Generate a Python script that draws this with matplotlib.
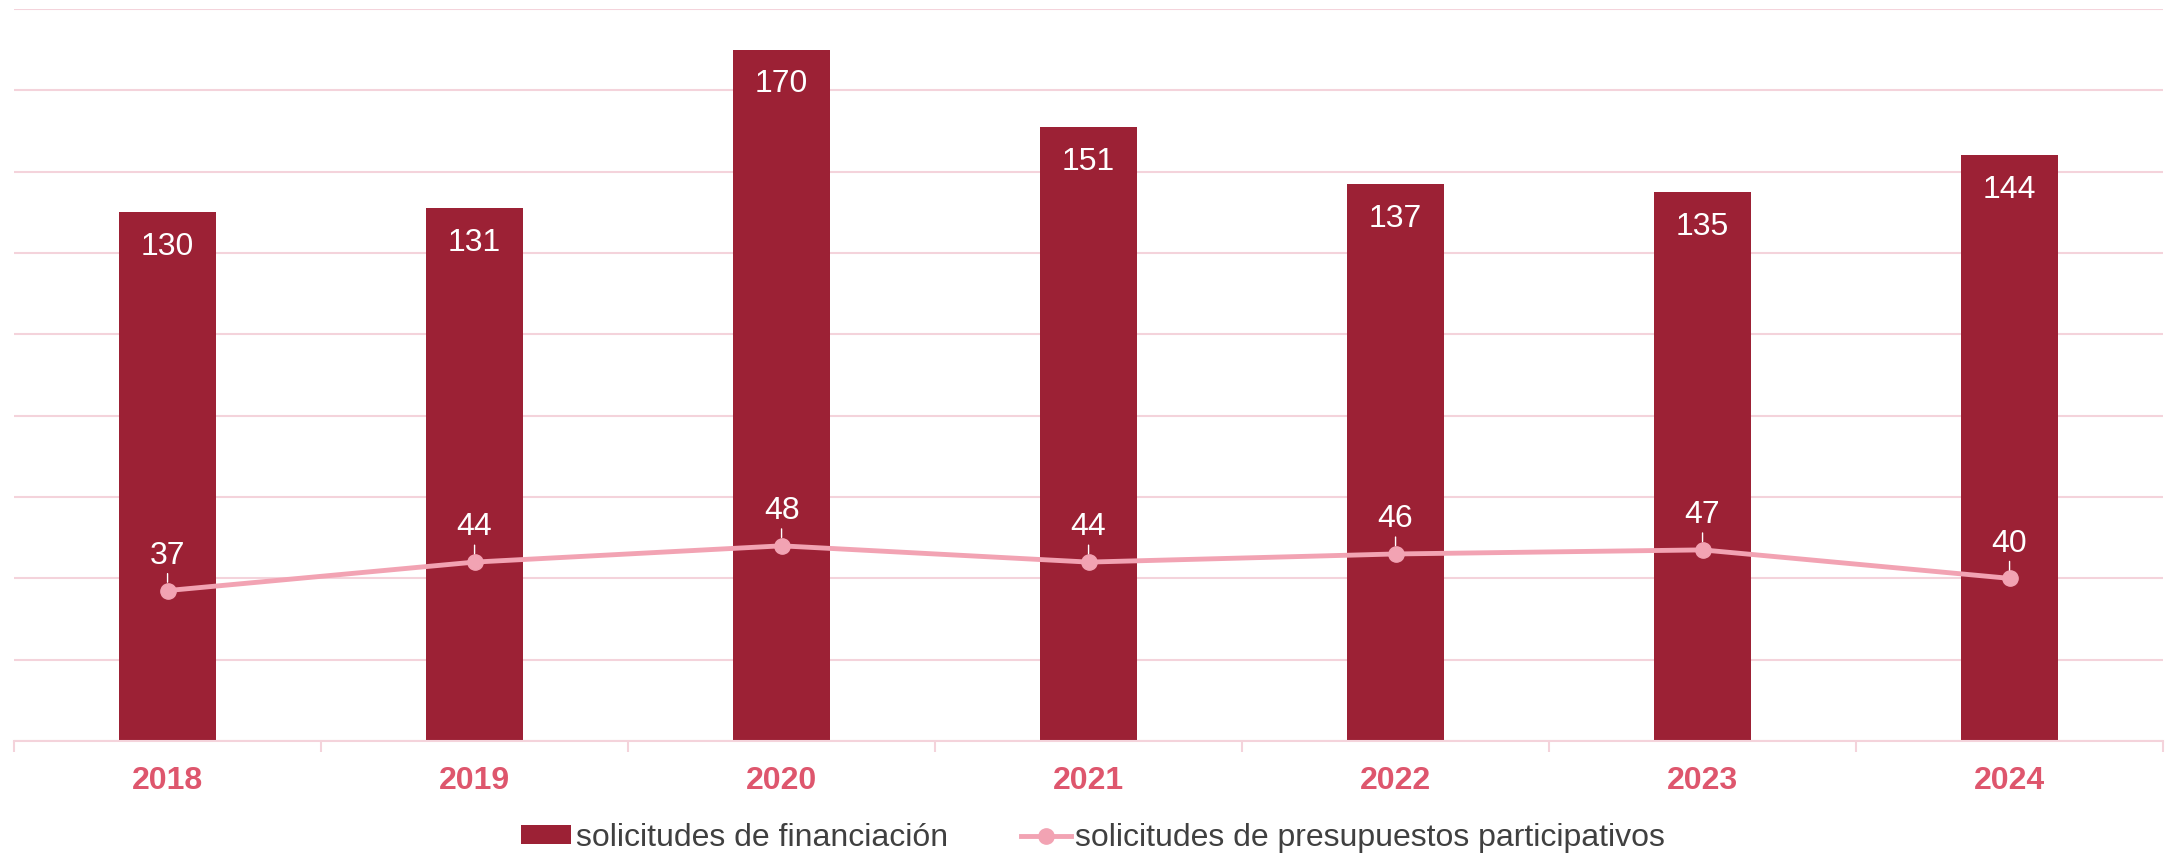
import matplotlib.pyplot as plt
import numpy as np

plt.rcParams["font.family"] = ["Liberation Sans", "DejaVu Sans"]

years = ["2018", "2019", "2020", "2021", "2022", "2023", "2024"]
financiacion = [130, 131, 170, 151, 137, 135, 144]
presupuestos = [37, 44, 48, 44, 46, 47, 40]

BAR = "#9c2135"
LINE = "#f2a3b3"
GRID = "#f4d3db"
YEAR = "#de566d"

fig = plt.figure(figsize=(21.65, 8.56), dpi=100)
ax = fig.add_axes([0.0065, 0.1343, 0.9926, 0.8552])

x = np.arange(len(years))
bars = ax.bar(x, financiacion, width=0.315, color=BAR, zorder=2,
              label="solicitudes de financiación")
line, = ax.plot(x, presupuestos, color=LINE, lw=3.5, marker="o", ms=11,
                zorder=3, label="solicitudes de presupuestos participativos")

for xi, v in zip(x, financiacion):
    ax.annotate(str(v), (xi, v), xytext=(0, -25), textcoords="offset points",
                ha="center", va="center", color="white", fontsize=23, zorder=4)

for xi, v in zip(x, presupuestos):
    ax.annotate(str(v), (xi, v), xytext=(0, 25), textcoords="offset points",
                ha="center", va="center", color="white", fontsize=23, zorder=4,
                arrowprops=dict(arrowstyle="-", color="white", lw=1,
                                shrinkA=13, shrinkB=6))

ax.set_xlim(-0.5, len(years) - 0.5)
ax.set_ylim(0, 180)
ax.set_yticks(np.arange(0, 181, 20))
ax.yaxis.grid(True, color=GRID, lw=1.5, zorder=0)
ax.tick_params(axis="y", length=0, labelleft=False)

ax.set_xticks(x)
ax.set_xticklabels(years, fontsize=23, fontweight="bold", color=YEAR)
ax.tick_params(axis="x", which="major", length=0, pad=18)
ax.set_xticks(np.arange(-0.5, len(years)), minor=True)
ax.tick_params(axis="x", which="minor", length=8, width=1.5, color=GRID,
               direction="out")

for side in ["top", "left", "right"]:
    ax.spines[side].set_visible(False)
ax.spines["bottom"].set_color(GRID)
ax.spines["bottom"].set_linewidth(1.5)
ax.set_axisbelow(True)

fig.legend(handles=[bars, line], loc="center", bbox_to_anchor=(0.505, 0.021),
           ncol=2, frameon=False, fontsize=23, labelcolor="#404040",
           handlelength=1.55, handleheight=0.55, handletextpad=0.15,
           columnspacing=2.3)

fig.savefig("out.png", dpi=100)
